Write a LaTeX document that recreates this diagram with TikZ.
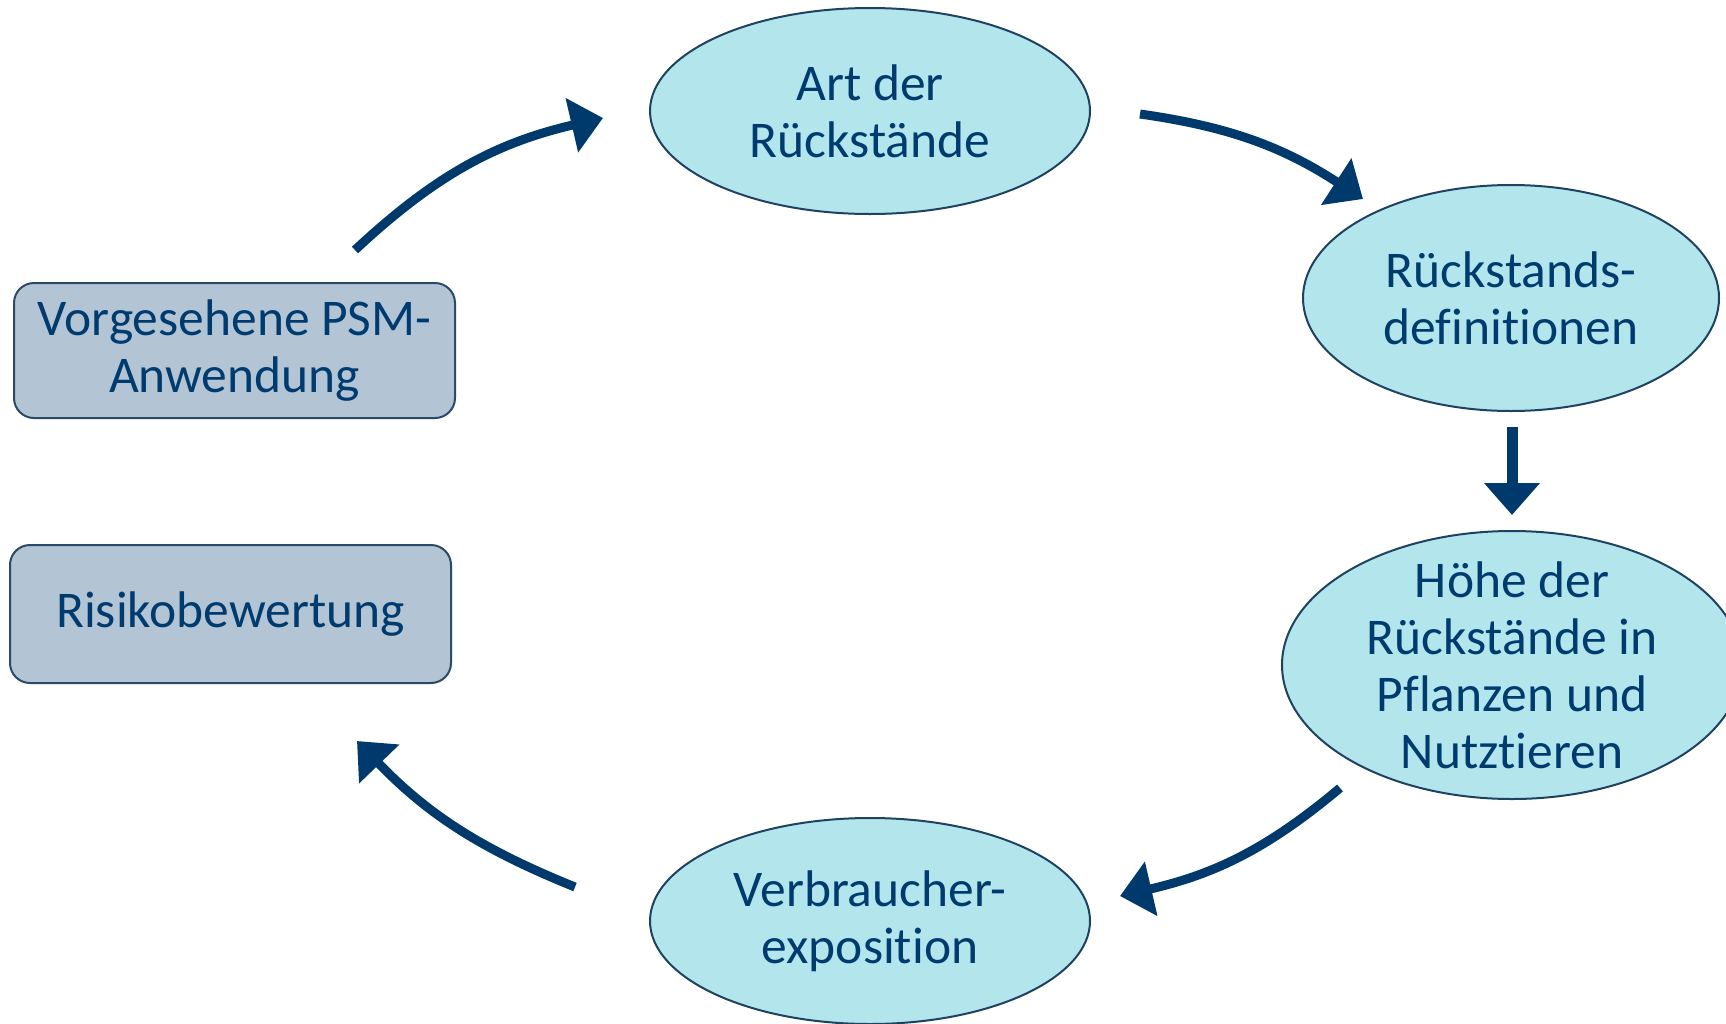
\documentclass[tikz,border=0pt]{standalone}
\usepackage{fontspec}
\setmainfont{Carlito}[Ligatures=NoCommon]
\usetikzlibrary{shapes.geometric,arrows.meta}
\definecolor{navy}{HTML}{003A6C}
\definecolor{txtblue}{HTML}{003B70}
\definecolor{ellfill}{HTML}{B2E6EC}
\definecolor{ellline}{HTML}{1F4262}
\definecolor{boxfill}{HTML}{B3C5D4}
\definecolor{boxline}{HTML}{2A4A6A}
\tikzset{
  ell/.style={ellipse, draw=ellline, line width=2pt, fill=ellfill, inner sep=0pt},
  elltext/.style={inner sep=0pt, text=txtblue, align=center, font=\fontsize{51.5}{57}\selectfont},
  boxnode/.style={rectangle, rounded corners=20pt, draw=boxline, line width=2pt, fill=boxfill,
    inner sep=0pt, text=txtblue, align=center, font=\fontsize{51.5}{57}\selectfont},
  flow/.style={draw=navy, line width=9pt, -{Triangle[length=32pt,width=54pt]}, color=navy},
}
\begin{document}
\begin{tikzpicture}[x=1pt,y=-1pt]
\useasboundingbox (0,0) rectangle (1726,1023);
\clip (0,0) rectangle (1726,1023);
\fill[white] (0,0) rectangle (1726,1023);

\node[ell, minimum width=440pt, minimum height=206pt] (art) at (870,111) {};
\node[elltext] at (art.center) {Art der\\Rückstände};
\node[ell, minimum width=416pt, minimum height=226pt] (def) at (1511,298) {};
\node[elltext] at (def.center) {Rückstands-\\definitionen};
\node[ell, minimum width=460pt, minimum height=268pt] (hoehe) at (1512,665) {};
\node[elltext] at (hoehe.center) {Höhe der\\Rückstände in\\Pflanzen und\\Nutztieren};
\node[ell, minimum width=440pt, minimum height=206pt] (verb) at (870,921) {};
\node[elltext] at (verb.center) {Verbraucher-\\exposition};

\node[boxnode, minimum width=441pt, minimum height=135pt] (psm) at (234.5,350.5) {Vorgesehene PSM-\\Anwendung};
\node[boxnode, minimum width=441pt, minimum height=138pt] (risk) at (230.5,614) {Risikobewertung};

\coordinate (a1s) at (355,250);
\coordinate (a1e) at (603,118);
\coordinate (a2s) at (1140,114);
\coordinate (a2e) at (1363,199);
\coordinate (a3s) at (1512,427);
\coordinate (a3e) at (1512,515);
\coordinate (a4s) at (1340,788);
\coordinate (a4e) at (1120,896);
\coordinate (a5s) at (575,887);
\coordinate (a5e) at (357,741);

\draw[flow] (a1s) .. controls (435.4,175) and (495.9,142.8) .. (a1e);
\draw[flow] (a2s) .. controls (1232,127) and (1285,148.3) .. (a2e);
\draw[flow, line width=11pt] (a3s) -- (a3e);
\draw[flow] (a4s) .. controls (1266.5,849.7) and (1213.5,874.4) .. (a4e);
\draw[flow] (a5s) .. controls (480.4,848.8) and (427.9,814.3) .. (a5e);
\end{tikzpicture}
\end{document}
